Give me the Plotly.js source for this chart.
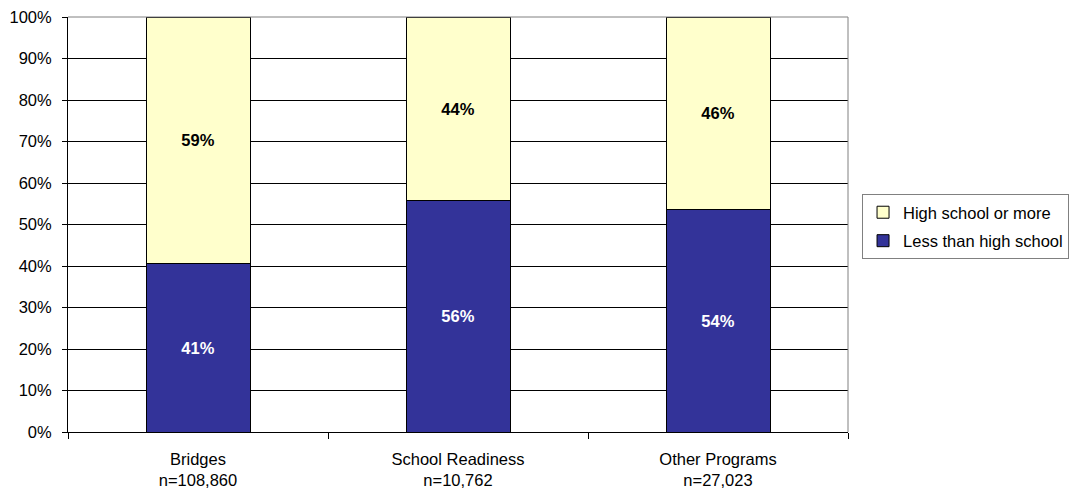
<!DOCTYPE html>
<html>
<head>
<meta charset="utf-8">
<script src="https://cdn.plot.ly/plotly-3.0.1.min.js"></script>
<style>html,body{margin:0;padding:0;background:#fff;}#chart{width:1070px;height:496px;}</style>
</head>
<body>
<div id="chart"></div>
<script>
var categories = ["Bridges<br>n=108,860", "School Readiness<br>n=10,762", "Other Programs<br>n=27,023"];
var lessThanHS = [40.5, 55.8, 53.5];
var hsOrMore = [59.5, 44.2, 46.5];
var lessLabels = ["41%", "56%", "54%"];
var hsLabels = ["59%", "44%", "46%"];
var yTickVals = [0, 10, 20, 30, 40, 50, 60, 70, 80, 90, 100];
var yTickText = ["0%", "10%", "20%", "30%", "40%", "50%", "60%", "70%", "80%", "90%", "100%"];

var font = "Liberation Sans, Arial, sans-serif";
var fs = 16.5;
var traces = [
  {
    type: "bar", name: "Less than high school", x: categories, y: lessThanHS,
    legendgroup: "b", legendrank: 2,
    text: lessLabels, textposition: "inside", insidetextanchor: "middle", textangle: 0,
    constraintext: "none",
    textfont: {family: font, size: fs, color: "#ffffff", weight: "bold"},
    marker: {color: "#333399", line: {color: "#000000", width: 1}},
    hoverinfo: "none"
  },
  {
    type: "bar", name: "High school or more", x: categories, y: hsOrMore,
    legendgroup: "a", legendrank: 1,
    text: hsLabels, textposition: "inside", insidetextanchor: "middle", textangle: 0,
    constraintext: "none",
    textfont: {family: font, size: fs, color: "#000000", weight: "bold"},
    marker: {color: "#FFFFCC", line: {color: "#000000", width: 1}},
    hoverinfo: "none"
  }
];
var layout = {
  width: 1070, height: 496,
  margin: {l: 68, r: 222, t: 17, b: 64, autoexpand: false},
  paper_bgcolor: "#ffffff", plot_bgcolor: "#ffffff",
  barmode: "stack", bargap: 0.6,
  font: {family: font, size: fs, color: "#000000"},
  showlegend: true,
  legend: {
    x: 1.018, xanchor: "left", y: 0.5735, yanchor: "top",
    traceorder: "grouped", bordercolor: "#808080", borderwidth: 1,
    font: {family: font, size: fs, color: "#000000"},
    itemwidth: 30, tracegroupgap: 4
  },
  xaxis: {
    type: "category", tickson: "boundaries", ticks: "outside", ticklen: 6,
    tickcolor: "#000000", showline: true, linecolor: "#000000", linewidth: 1,
    showgrid: false, zeroline: false, fixedrange: true, ticklabelstandoff: 12,
    automargin: false,
    tickfont: {family: font, size: fs, color: "#000000"}
  },
  yaxis: {
    range: [0, 100], tickvals: yTickVals, ticktext: yTickText,
    ticks: "outside", ticklen: 5, tickcolor: "#000000",
    showline: true, linecolor: "#000000", linewidth: 1, ticklabelstandoff: 7,
    automargin: false,
    showgrid: true, gridcolor: "#000000", gridwidth: 1, zeroline: false,
    tickfont: {family: font, size: fs, color: "#000000"}, fixedrange: true
  },
  shapes: [
    {type: "line", xref: "paper", yref: "paper", x0: 0, x1: 1, y0: 1, y1: 1, line: {color: "#808080", width: 1}},
    {type: "line", xref: "paper", yref: "paper", x0: 1, x1: 1, y0: 0, y1: 1, line: {color: "#808080", width: 1}}
  ]
};
Plotly.newPlot("chart", traces, layout, {displayModeBar: false, staticPlot: true});
</script>
</body>
</html>
